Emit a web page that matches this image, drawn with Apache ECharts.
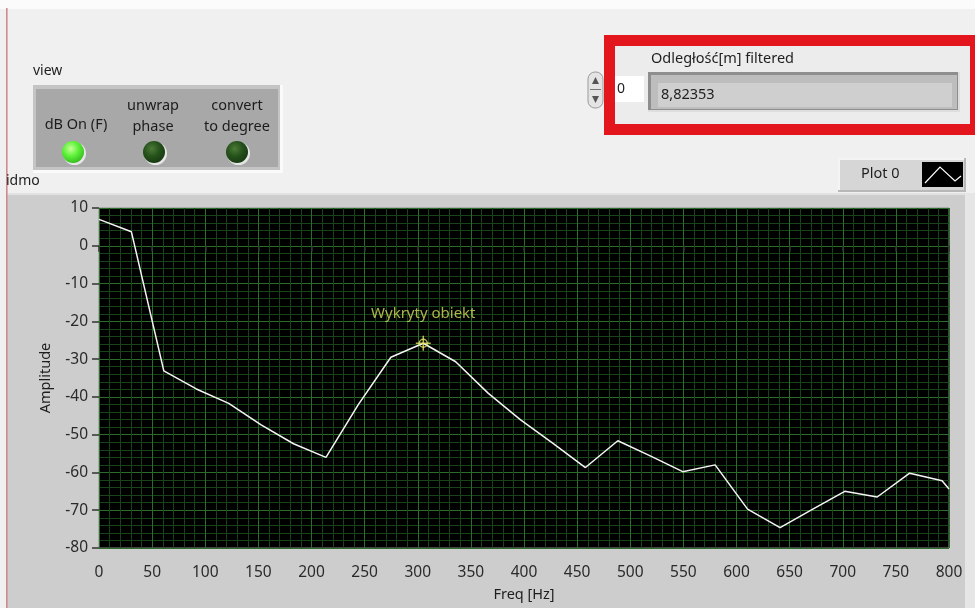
<!DOCTYPE html>
<html><head><meta charset="utf-8">
<script src="https://cdn.jsdelivr.net/npm/echarts@6/dist/echarts.min.js"></script>
<style>html,body{margin:0;padding:0;background:#f0f0f0;overflow:hidden}#c{width:975px;height:608px}</style>
</head><body><div id="c"></div>
<script>
// ---- data ----
const freq = [0, 30.5, 61, 91.6, 122.1, 152.6, 183.1, 213.6, 244.2, 274.7, 305.2, 335.7, 366.2, 396.8, 427.3, 457.8, 488.3, 518.8, 549.4, 579.9, 610.4, 641, 671.4, 701.9, 732.4, 763, 793.5, 800];
const amp  = [7, 3.7, -33.1, -37.9, -41.7, -47.4, -52.4, -56, -42, -29.5, -25.8, -30.7, -39, -46.1, -52.3, -58.7, -51.6, -55.6, -59.8, -58, -69.7, -74.6, -69.8, -65, -66.5, -60.2, -62.2, -64.4];
const peakFreq = [305.2];
const peakAmp = [-25.8];
const peakLabel = 'Wykryty obiekt';
const seriesName = 'Plot 0';
const xName = 'Freq [Hz]';
const yName = 'Amplitude';
const indicatorLabel = 'Odległość[m] filtered';
const indicatorValue = '8,82353';
const indexValue = '0';
const clusterLabel = 'view';
const switchLabels = [['dB On (F)'], ['unwrap', 'phase'], ['convert', 'to degree']];
const graphLabel = 'idmo';

const FF = '"Noto Sans", "Open Sans", sans-serif';
const chart = echarts.init(document.getElementById('c'), null, {renderer: 'canvas'});

function txt(x, y, s, size, opts) {
  opts = opts || {};
  return {type: 'text', x: x, y: y, z: opts.z || 5, style: {text: s, fill: opts.color || '#1e1e1e', font: (opts.weight || 'normal') + ' ' + size + 'px ' + FF, align: opts.align || 'left', verticalAlign: 'middle'}};
}
function rect(x, y, w, h, fill, opts) {
  opts = opts || {};
  return {type: 'rect', z: opts.z === undefined ? -5 : opts.z, shape: {x: x, y: y, width: w, height: h, r: opts.r || 0}, style: {fill: fill, stroke: opts.stroke || null, lineWidth: opts.lw || 0}};
}
function led(cx, cy, on) {
  const stops = on
    ? [{offset: 0, color: '#c8ff9a'}, {offset: 0.45, color: '#5ef23a'}, {offset: 1, color: '#2fb01a'}]
    : [{offset: 0, color: '#4c7a36'}, {offset: 0.5, color: '#24501a'}, {offset: 1, color: '#153510'}];
  return [
    {type: 'circle', z: 1, shape: {cx: cx + 1.5, cy: cy + 1.5, r: 11.5}, style: {fill: '#e6e6e6'}},
    {type: 'circle', z: 2, shape: {cx: cx, cy: cy, r: 11}, style: {fill: {type: 'radial', x: 0.4, y: 0.35, r: 0.75, colorStops: stops}}}
  ];
}

const graphics = [
  rect(0, 0, 975, 9, '#fbfbfb', {z: -8}),
  rect(6, 8, 1.6, 600, '#cf8a8a', {z: 3}),
  // graph frame
  rect(7, 193, 958, 415, '#cdcdcd', {z: -8}),
  rect(7, 193, 958, 2, '#e2e2e2', {z: -7}),
  rect(965, 193, 10, 415, '#e6e6e6', {z: -8}),
  // view cluster
  txt(33, 71, clusterLabel, 14),
  rect(33, 85, 250, 88, '#fafafa', {z: -4}),
  rect(33, 85, 247, 85, '#c4c4c4', {z: -3}),
  rect(36, 89, 242, 78, '#a8a8a8', {z: -2}),
  txt(76, 125, switchLabels[0][0], 14.5, {align: 'center', color: '#1c1c1c'}),
  txt(153, 106, switchLabels[1][0], 14.5, {align: 'center', color: '#1c1c1c'}),
  txt(153, 127, switchLabels[1][1], 14.5, {align: 'center', color: '#1c1c1c'}),
  txt(237, 106, switchLabels[2][0], 14.5, {align: 'center', color: '#1c1c1c'}),
  txt(237, 127, switchLabels[2][1], 14.5, {align: 'center', color: '#1c1c1c'}),
  ...led(73, 152, true),
  ...led(154, 152, false),
  ...led(237, 152, false),
  txt(6, 181, graphLabel, 14),
  // index spinner + box
  rect(588, 72, 15, 36, '#e4e4e4', {z: 1, r: 7, stroke: '#9a9a9a', lw: 1}),
  {type: 'polygon', z: 2, shape: {points: [[595.5, 77], [592, 84], [599, 84]]}, style: {fill: '#555'}},
  {type: 'polygon', z: 2, shape: {points: [[595.5, 103], [592, 96], [599, 96]]}, style: {fill: '#555'}},
  rect(590, 89, 11, 1, '#777', {z: 2}),
  rect(612, 76, 32, 26, '#ffffff', {z: 1}),
  txt(617, 89, indexValue, 14),
  // red highlight frame
  {type: 'rect', z: 4, shape: {x: 609.5, y: 40.5, width: 366, height: 89}, style: {fill: null, stroke: '#e3161d', lineWidth: 11}},
  rect(615, 46, 360, 78, '#ececec', {z: -4}),
  txt(651, 59, indicatorLabel, 14.5),
  rect(648, 72, 312, 40, '#dedede', {z: -3}),
  rect(648, 72, 310, 38, '#8e8e8e', {z: -2}),
  rect(651, 75, 306, 34, '#bdbdbd', {z: -1}),
  rect(658, 83, 294, 24, '#cfcfcf', {z: 0}),
  txt(661, 95, indicatorValue, 14.5),
  // plot legend
  rect(838, 158, 128, 34, '#b8b8b8', {z: -3}),
  rect(838, 158, 126, 32, '#f4f4f4', {z: -2}),
  rect(840, 160, 124, 30, '#d6d6d6', {z: -1}),
  txt(861, 174, seriesName, 14.5),
  rect(922, 162, 41, 25, '#000', {z: 1}),
  {type: 'polyline', z: 2, shape: {points: [[925, 183], [940, 167], [955, 181], [961, 176]]}, style: {stroke: '#fff', fill: null, lineWidth: 1.2}}
];

const option = {
  animation: false,
  backgroundColor: '#f0f0f0',
  textStyle: {fontFamily: FF},
  graphic: graphics,
  grid: {left: 99, top: 208, width: 850, height: 340, show: true, backgroundColor: '#000', borderColor: '#8a8a8a', borderWidth: 1},
  xAxis: {
    type: 'value', min: 0, max: 800, interval: 50, offset: 4,
    name: xName, nameLocation: 'middle', nameGap: 35,
    nameTextStyle: {fontSize: 14.5, color: '#1e1e1e', fontFamily: FF},
    axisLine: {show: false},
    axisTick: {show: true, length: 6, lineStyle: {color: '#333', width: 1.5}},
    axisLabel: {fontSize: 15.5, color: '#2a2a2a', margin: 13, fontFamily: FF},
    splitLine: {show: true, lineStyle: {color: '#2b6e2b', width: 1}},
    minorTick: {show: false, splitNumber: 5},
    minorSplitLine: {show: true, lineStyle: {color: '#194419', width: 1}}
  },
  yAxis: {
    type: 'value', min: -80, max: 10, interval: 10, offset: 1,
    name: yName, nameLocation: 'middle', nameGap: 45, nameRotate: 90,
    nameTextStyle: {fontSize: 14.5, color: '#1e1e1e', fontFamily: FF},
    axisLine: {show: false},
    axisTick: {show: true, length: 7, lineStyle: {color: '#333', width: 1.5}},
    axisLabel: {fontSize: 15.5, color: '#2a2a2a', margin: 10, fontFamily: FF},
    splitLine: {show: true, lineStyle: {color: '#2b6e2b', width: 1}},
    minorTick: {show: false, splitNumber: 5},
    minorSplitLine: {show: true, lineStyle: {color: '#194419', width: 1}}
  },
  series: [
    {
      name: seriesName, type: 'line', data: freq.map((f, i) => [f, amp[i]]),
      symbol: 'none', clip: true, lineStyle: {color: '#f4f4f4', width: 1.5}, z: 3
    },
    {
      type: 'scatter', data: peakFreq.map((f, i) => [f, peakAmp[i]]), z: 4,
      symbol: 'path://M0,8 L16,8 M8,0 L8,16', symbolSize: 15,
      itemStyle: {color: 'rgba(0,0,0,0)', borderColor: '#e4e46a', borderWidth: 1.5}
    },
    {
      type: 'scatter', data: peakFreq.map((f, i) => [f, peakAmp[i]]), z: 5,
      symbol: 'circle', symbolSize: 8,
      itemStyle: {color: 'rgba(0,0,0,0)', borderColor: '#e4e46a', borderWidth: 1.5},
      label: {show: true, position: 'top', distance: 17, formatter: peakLabel, color: '#d6de5e', fontSize: 15, fontFamily: FF}
    }
  ]
};
chart.setOption(option);
</script>
</body></html>
